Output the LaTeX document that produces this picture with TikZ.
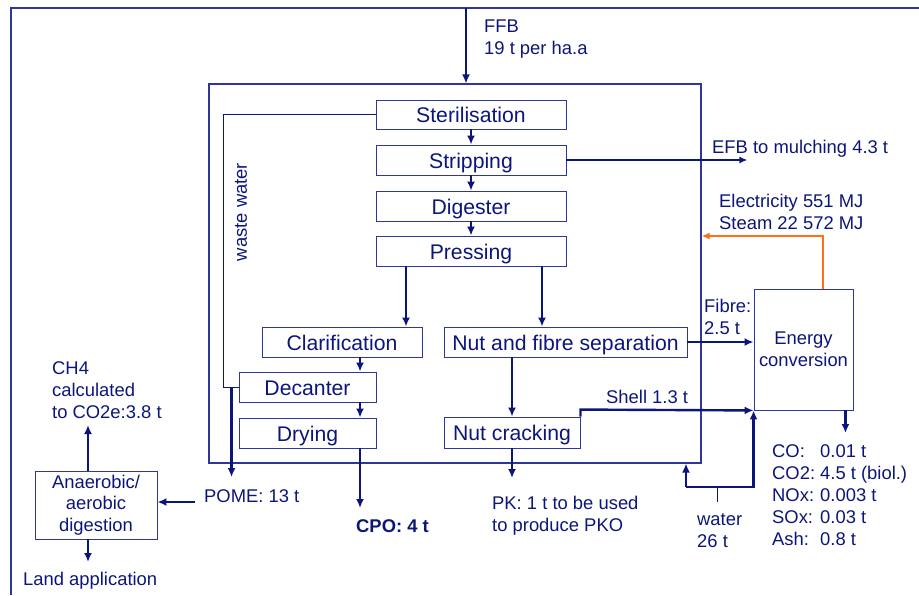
\documentclass[tikz,border=0pt]{standalone}
\usepackage{fontspec}
\setmainfont{Liberation Sans}
\usetikzlibrary{arrows.meta,calc}
\definecolor{navy}{RGB}{12,22,122}
\definecolor{bord}{RGB}{45,55,155}
\definecolor{orng}{RGB}{255,112,24}
\begin{document}
\begin{tikzpicture}[x=1pt,y=-1pt,
  proc/.style={draw=bord, line width=0.9pt, minimum height=30pt, inner sep=0pt, text height=16.6pt, text depth=0pt, text=navy, font=\fontsize{21.2}{24}\selectfont},
  sbox/.style={draw=bord, line width=0.9pt, inner sep=0pt, text=navy, align=center, font=\fontsize{18.4}{21.5}\selectfont},
  lbl/.style={anchor=base west, inner sep=0pt, text=navy, align=left, font=\fontsize{18.4}{22}\selectfont},
  arr/.style={draw=navy, line width=2.4pt, -{Latex[length=9pt,width=8pt]}},
  marr/.style={draw=navy, line width=1.8pt, -{Latex[length=8pt,width=7pt]}},
  oarr/.style={draw=orng, line width=1.5pt, -{Latex[length=8pt,width=7pt]}},
  thinline/.style={draw=navy, line width=1pt}]
\useasboundingbox (0,0) rectangle (919,595);
% outer frame
\draw[bord, line width=1.2pt] (11,595) -- (11,8) -- (919,8);
% mill box
\node[draw=bord, line width=1.1pt, minimum width=492pt, minimum height=379pt, inner sep=0pt] (mill) at (455,273.5) {};
% process boxes
\node[proc, minimum width=190pt, minimum height=29pt] (ster) at (471,114.5) {Sterilisation};
\node[proc, minimum width=190pt] (strip) at (471,160) {Stripping};
\node[proc, minimum width=190pt] (dig) at (471,206) {Digester};
\node[proc, minimum width=190pt] (press) at (471,251) {Pressing};
\node[proc, minimum width=160pt] (clar) at (342,342) {Clarification};
\node[proc, minimum width=137pt] (dec) at (307.5,387) {Decanter};
\node[proc, minimum width=137pt] (dry) at (307.5,433) {Drying};
\node[proc, minimum width=243pt] (nfs) at (565.5,342) {Nut and fibre separation};
\node[proc, minimum width=136pt, minimum height=31pt] (nc) at (512,432.5) {Nut cracking};
\node[sbox, minimum width=99pt, minimum height=121pt] (en) at (803.5,349.5) {Energy\\conversion};
\node[sbox, minimum width=122pt, minimum height=68pt] (anae) at (96,505) {Anaerobic/\\aerobic\\digestion};
% labels (base = last line)
\node[lbl] (ffb) at (484,54) {FFB\\19 t per ha.a};
\node[lbl] (efb) at (712,153) {EFB to mulching 4.3 t};
\node[lbl] (elec) at (719,229) {Electricity 551 MJ\\Steam 22 572 MJ};
\node[lbl] (fibre) at (704,334) {Fibre:\\2.5 t};
\node[lbl] (shell) at (606,403) {Shell 1.3 t};
\node[lbl] (emis) at (772,545) {\makebox[48pt][l]{CO:}0.01 t\\\makebox[48pt][l]{CO2:}4.5 t (biol.)\\\makebox[48pt][l]{NOx:}0.003 t\\\makebox[48pt][l]{SOx:}0.03 t\\\makebox[48pt][l]{Ash:}0.8 t};
\node[lbl] (water) at (697,547) {water\\26 t};
\node[lbl] (pk) at (492,531) {PK: 1 t to be used\\to produce PKO};
\node[lbl, font=\fontsize{18.4}{22}\selectfont\bfseries] (cpo) at (356,532) {CPO: 4 t};
\node[lbl] (pome) at (204,502) {POME: 13 t};
\node[lbl] (ch4) at (52,418) {CH4\\calculated\\to CO2e:3.8 t};
\node[lbl] (land) at (23,585) {Land application};
\node[inner sep=0pt, text=navy, rotate=90, font=\fontsize{18.4}{22}\selectfont] (ww) at (241,212) {waste water};
% FFB input
\coordinate (ffbin) at (466,8);
\draw[arr] (ffbin) -- (ffbin |- mill.north);
% main line
\draw[arr] (ster.south) -- (strip.north);
\draw[arr] (strip.south) -- (dig.north);
\draw[arr] (dig.south) -- (press.north);
\draw[arr] ([xshift=-65pt]press.south) -- ([xshift=-65pt]press.south |- clar.north);
\draw[arr] ([xshift=71pt]press.south) -- ([xshift=71pt]press.south |- nfs.north);
\draw[arr] ([xshift=52.5pt]dec.north |- clar.south) -- ([xshift=52.5pt]dec.north);
\draw[arr] ([xshift=52.5pt]dec.south) -- ([xshift=52.5pt]dry.north);
\coordinate (cpoend) at ([xshift=52.5pt]dry.south |- 0,508);
\draw[arr] ([xshift=52.5pt]dry.south) -- (cpoend);
\draw[arr] (nc.north |- nfs.south) -- (nc.north);
\coordinate (pkend) at (nc.south |- 0,478);
\draw[arr] (nc.south) -- (pkend);
% EFB
\coordinate (efbend) at ([xshift=181pt]strip.east);
\draw[marr] (strip.east) -- (efbend);
% energy
\draw[oarr] ([xshift=19.5pt]en.north) |- ([yshift=37.5pt]mill.east);
\draw[arr] (nfs.east) -- (nfs.east -| en.west);
\draw[arr] (nc.north east) -- ++(0,-7) -- (en.south west);
\coordinate (emisend) at ([xshift=-8pt]en.south east |- 0,433);
\draw[arr] ([xshift=-8pt]en.south east) -- (emisend);
% water
\coordinate (wl) at (686,487);
\coordinate (wr) at (en.south west |- wl);
\coordinate (wt) at (717,487);
\draw[thinline] (wt) -- ++(0,15);
\draw[arr] (wl) -- (wl |- mill.south);
\draw[arr] (wl) -- (wr) -- (en.south west);
% waste water / POME
\draw[thinline] (ster.west) -- ++(-152,0) |- (dec.west);
\coordinate (pj) at ([xshift=-7pt]dec.west);
\coordinate (pomeend) at (pj |- 0,477);
\draw[arr] (pj) -- (pomeend);
\coordinate (pomestart) at ([xshift=38pt,yshift=3pt]anae.east);
\draw[arr] (pomestart) -- ([yshift=3pt]anae.east);
\coordinate (ch4end) at ([xshift=-8pt]anae.north |- 0,425);
\draw[arr] ([xshift=-8pt]anae.north) -- (ch4end);
\coordinate (landend) at ([xshift=-8pt]anae.south |- 0,562);
\draw[arr] ([xshift=-8pt]anae.south) -- (landend);
\end{tikzpicture}
\end{document}
